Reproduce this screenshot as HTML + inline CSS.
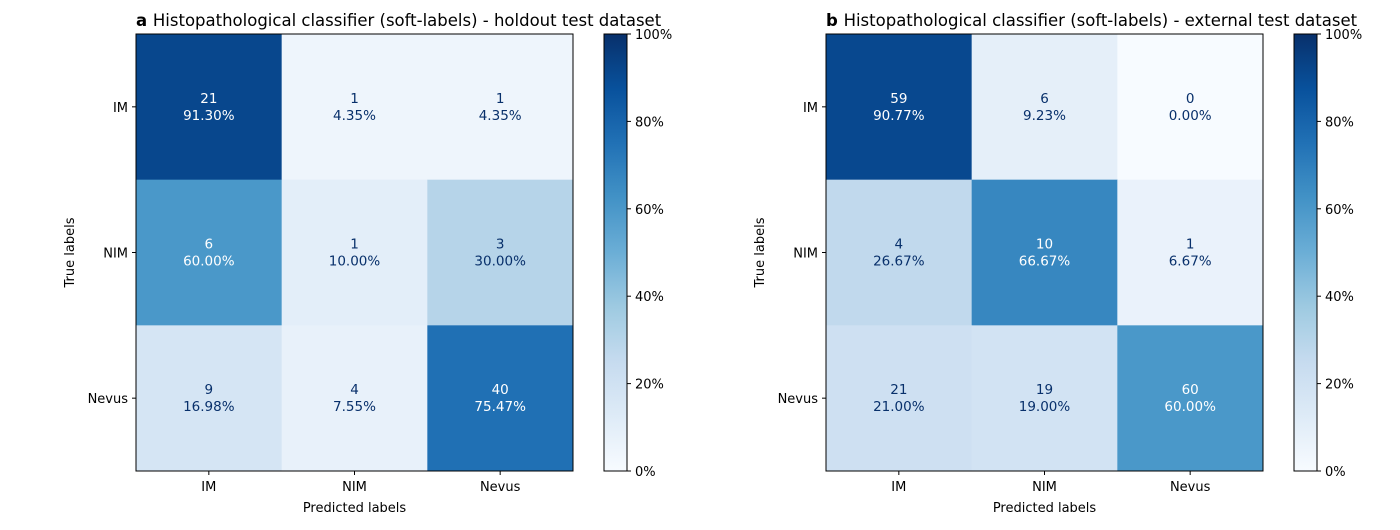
<!DOCTYPE html>
<html><head><meta charset="utf-8">
<style>
body{margin:0;background:#fff;font-family:"Liberation Sans","DejaVu Sans",sans-serif;}
svg text{font-family:"DejaVu Sans","Liberation Sans",sans-serif;}
</style></head>
<body>
<svg id="chart" width="1400" height="525" xmlns="http://www.w3.org/2000/svg"></svg>
<script>
const classes = ["IM","NIM","Nevus"];
const countsA = [[21,1,1],[6,1,3],[9,4,40]];
const pctA = [[91.30,4.35,4.35],[60.00,10.00,30.00],[16.98,7.55,75.47]];
const countsB = [[59,6,0],[4,10,1],[21,19,60]];
const pctB = [[90.77,9.23,0.00],[26.67,66.67,6.67],[21.00,19.00,60.00]];
const cbTicks = [0,20,40,60,80,100];
const titles = ["Histopathological classifier (soft-labels) - holdout test dataset","Histopathological classifier (soft-labels) - external test dataset"];
const letters = ["a","b"];

const stops=["#f7fbff","#deebf7","#c6dbef","#9ecae1","#6baed6","#4292c6","#2171b5","#08519c","#08306b"];
function hex(h){return [1,3,5].map(i=>parseInt(h.substr(i,2),16));}
function blues(t){t=Math.max(0,Math.min(1,t));const p=t*8;const i=Math.min(7,Math.floor(p));const f=p-i;const a=hex(stops[i]),b=hex(stops[i+1]);return "rgb("+a.map((v,k)=>Math.round(v+(b[k]-v)*f)).join(",")+")";}
const svg=document.getElementById("chart");
const NS="http://www.w3.org/2000/svg";
function el(tag,attrs,parent){const e=document.createElementNS(NS,tag);for(const k in attrs)e.setAttribute(k,attrs[k]);(parent||svg).appendChild(e);return e;}
function txt(s,attrs,parent){const e=el("text",attrs,parent);e.textContent=s;return e;}

function panel(idx,x0,counts,pct){
  const g=el("g",{});
  
  
  const y0=34,W=437,H=437,n=classes.length,cw=W/n,ch=H/n;
  const xs=i=>x0+i*cw, ys=j=>y0+j*ch;
  let mn=Infinity,mx=-Infinity;pct.forEach(r=>r.forEach(v=>{mn=Math.min(mn,v);mx=Math.max(mx,v);}));
  const thr=(mn+mx)/2;
  for(let r=0;r<n;r++)for(let c=0;c<n;c++){
    const rect=el("rect",{x:xs(c),y:ys(r),width:cw+0.5,height:ch+0.5,fill:blues(pct[r][c]/100)},g);
    
    
    const col=pct[r][c]>=thr?"#ffffff":"#08306b";
    const t=txt(counts[r][c],{x:xs(c)+cw/2,y:ys(r)+ch/2-4,"text-anchor":"middle","font-size":13.5,fill:col},g);
    
    
    const t2=txt(pct[r][c].toFixed(2)+"%",{x:xs(c)+cw/2,y:ys(r)+ch/2+13,"text-anchor":"middle","font-size":13.5,fill:col},g);
    
    
  }
  el("rect",{x:x0,y:y0,width:W,height:H,fill:"none",stroke:"#000","stroke-width":1},g);
  classes.forEach((c,i)=>{
    el("line",{x1:xs(i)+cw/2,x2:xs(i)+cw/2,y1:y0+H,y2:y0+H+4,stroke:"#000"},g);
    const tx=txt(c,{x:xs(i)+cw/2,y:y0+H+20,"text-anchor":"middle","font-size":13},g);
    
    
    el("line",{x1:x0-4,x2:x0,y1:ys(i)+ch/2,y2:ys(i)+ch/2,stroke:"#000"},g);
    const ty=txt(c,{x:x0-8,y:ys(i)+ch/2+5,"text-anchor":"end","font-size":13},g);
    
    
  });
  const xl=txt("Predicted labels",{x:x0+W/2,y:512,"text-anchor":"middle","font-size":13},g);
  
  const yl=txt("True labels",{x:0,y:0,"text-anchor":"middle","font-size":13,transform:`translate(${x0-62},${y0+H/2}) rotate(-90)`},g);
  
  const tt=el("text",{x:x0,y:26,"font-size":16.5},g);
  
  const b=el("tspan",{"font-weight":"bold"},tt);b.textContent=letters[idx]+" ";
  const s=el("tspan",{},tt);s.textContent=titles[idx];
  // colorbar
  const cx=x0+468,cwid=23;
  const gid="grad"+idx;
  const defs=el("defs",{},g);
  const lg=el("linearGradient",{id:gid,x1:0,y1:1,x2:0,y2:0},defs);
  for(let k=0;k<=16;k++)el("stop",{offset:k/16,"stop-color":blues(k/16)},lg);
  const cb=el("rect",{x:cx,y:y0,width:cwid,height:H,fill:`url(#${gid})`,stroke:"#000","stroke-width":1},g);
  
  cbTicks.forEach(v=>{
    const y=y0+H-v/100*H;
    el("line",{x1:cx+cwid,x2:cx+cwid+4,y1:y,y2:y,stroke:"#000"},g);
    const l=txt(v+"%",{x:cx+cwid+8,y:y+5,"font-size":13},g);
    
  });
}
panel(0,136,countsA,pctA);
panel(1,826,countsB,pctB);
</script>
</body></html>
